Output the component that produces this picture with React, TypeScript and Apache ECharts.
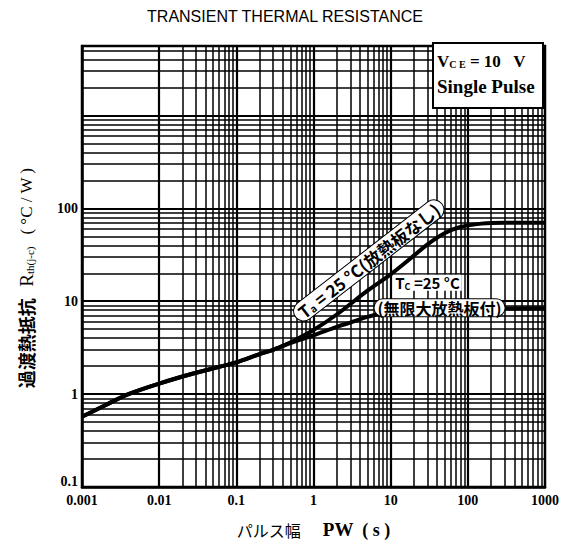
import React, { useEffect, useRef } from "react";
import * as echarts from "echarts";

// Axis ticks / labels
const xTickValues = [0.001, 0.01, 0.1, 1, 10, 100, 1000];
const xTickLabels = ["0.001", "0.01", "0.1", "1", "10", "100", "1000"];
const yTickValues = [0.1, 1, 10, 100];
const yTickLabels = ["0.1", "1", "10", "100"];

const X_MIN = 0.001;
const X_MAX = 1000;
const Y_MIN = 0.1;
const Y_MAX = 5600;

// Ta = 25°C (no heat sink)
const pwTa = [0.001, 0.002, 0.004, 0.01, 0.03, 0.1, 0.2, 0.3, 0.5, 1, 2, 5, 10, 20, 30, 50, 80, 150, 300, 1000];
const rthTa = [0.57, 0.76, 1.0, 1.3, 1.7, 2.2, 2.7, 3.0, 3.6, 4.9, 7.2, 13, 19.5, 31, 41, 54, 63, 68.5, 70, 70];

// Tc = 25°C (infinite heat sink)
const pwTc = [0.001, 0.002, 0.004, 0.01, 0.03, 0.1, 0.2, 0.3, 0.5, 1, 2, 3, 5, 7, 10, 20, 50, 1000];
const rthTc = [0.57, 0.76, 1.0, 1.3, 1.7, 2.2, 2.7, 3.0, 3.55, 4.3, 5.3, 5.9, 6.8, 7.3, 7.7, 8.1, 8.3, 8.4];

// Annotation anchor points (data coordinates)
const taLabelAt = [5.2, 27.5];
const tcLabel1At = [30, 15.8];
const tcLabel2At = [43, 8.5];

const findLabel = (v: number, vals: number[], labels: string[]) => {
  const i = vals.findIndex((t) => Math.abs(Math.log10(t) - Math.log10(v)) < 1e-6);
  return i >= 0 ? labels[i] : "";
};

export default function App() {
  const ref = useRef<HTMLDivElement>(null);
  useEffect(() => {
    const chart = echarts.init(ref.current!, null, { renderer: "svg" });
    const serif = "'Liberation Serif', 'DejaVu Serif', serif";
    const cjk = "'Noto Sans CJK JP', sans-serif";

    const xLines: any[] = [];
    for (let n = -3; n <= 2; n++) {
      for (let k = 1; k <= 9; k++) {
        const v = k * Math.pow(10, n);
        if (v > X_MIN * 1.0001 && v < X_MAX * 0.9999) {
          xLines.push({ xAxis: v, lineStyle: { width: k === 1 ? 2.2 : 1.5, color: "#000", type: "solid" } });
        }
      }
    }
    const yLines: any[] = [];
    for (let n = -1; n <= 3; n++) {
      for (let k = 1; k <= 9; k++) {
        const v = k * Math.pow(10, n);
        if (v > Y_MIN * 1.0001 && v < Y_MAX * 0.99) {
          yLines.push({ yAxis: v, lineStyle: { width: k === 1 ? 2.2 : 1.5, color: "#000", type: "solid" } });
        }
      }
    }

    chart.setOption({
      animation: false,
      grid: {
        left: 82,
        right: 20,
        top: 46,
        bottom: 56,
        show: true,
        borderColor: "#000",
        borderWidth: 2.5,
        backgroundColor: "#fff",
      },
      xAxis: {
        type: "log",
        logBase: 10,
        min: X_MIN,
        max: X_MAX,
        splitNumber: 6,
        axisLine: { show: true, lineStyle: { color: "#000", width: 2.5 } },
        axisTick: { show: false },
        splitLine: { show: false },
        axisLabel: {
          showMinLabel: true,
          showMaxLabel: true,
          margin: 6,
          color: "#000",
          fontFamily: serif,
          fontWeight: "bold",
          fontSize: 14,
          formatter: (v: number) => findLabel(v, xTickValues, xTickLabels),
        },
        name: "{c|パルス幅}{g|     }{p|PW}{g|  }{u|( s )}",
        nameLocation: "middle",
        nameGap: 33,
        nameTextStyle: {
          rich: {
            c: { fontFamily: cjk, fontSize: 16, color: "#000" },
            g: { fontSize: 16 },
            p: { fontFamily: serif, fontWeight: "bold", fontSize: 19, color: "#000" },
            u: { fontFamily: serif, fontWeight: "bold", fontSize: 18, color: "#000" },
          },
        },
      },
      yAxis: {
        type: "log",
        logBase: 10,
        min: Y_MIN,
        max: Y_MAX,
        splitNumber: 5,
        axisLine: { show: true, lineStyle: { color: "#000", width: 2.5 } },
        axisTick: { show: false },
        splitLine: { show: false },
        axisLabel: {
          showMinLabel: true,
          margin: 4,
          color: "#000",
          fontFamily: serif,
          fontWeight: "bold",
          fontSize: 14,
          formatter: (v: number) => {
            const s = findLabel(v, yTickValues, yTickLabels);
            if (s === "0.1") return "{low|0.1}";
            return s;
          },
          rich: {
            low: { fontFamily: serif, fontWeight: "bold", fontSize: 14, color: "#000", padding: [0, 0, 12, 0] },
          },
        },
      },
      series: [
        {
          type: "line",
          name: "grid",
          data: [[X_MIN, Y_MIN]],
          showSymbol: false,
          symbol: "none",
          silent: true,
          z: 1,
          lineStyle: { width: 0 },
          markLine: {
            silent: true,
            symbol: ["none", "none"],
            label: { show: false },
            animation: false,
            data: [...xLines, ...yLines],
          },
        },
        {
          type: "line",
          name: "Ta",
          data: pwTa.map((x, i) => [x, rthTa[i]]),
          showSymbol: false,
          symbol: "none",
          smooth: 0.3,
          z: 5,
          lineStyle: { color: "#000", width: 4 },
        },
        {
          type: "line",
          name: "Tc",
          data: pwTc.map((x, i) => [x, rthTc[i]]),
          showSymbol: false,
          symbol: "none",
          smooth: 0.3,
          z: 5,
          lineStyle: { color: "#000", width: 4 },
        },
      ],
    });

    const px = (x: number, y: number) =>
      chart.convertToPixel({ xAxisIndex: 0, yAxisIndex: 0 }, [x, y]) as number[];
    const ta = px(taLabelAt[0], taLabelAt[1]);
    const tc1 = px(tcLabel1At[0], tcLabel1At[1]);
    const tc2 = px(tcLabel2At[0], tcLabel2At[1]);
    const corner = px(X_MAX, Y_MAX);

    chart.setOption({
      graphic: [
        {
          type: "text",
          x: 285,
          y: 16,
          z: 50,
          style: {
            text: "TRANSIENT THERMAL RESISTANCE",
            align: "center",
            verticalAlign: "middle",
            fontFamily: "'Liberation Sans', Arial, sans-serif",
            fontSize: 16,
            fill: "#000",
          },
        },
        {
          type: "text",
          x: 26,
          y: 278,
          rotation: Math.PI / 2,
          z: 50,
          style: {
            text: "{c|過渡熱抵抗}{g|   }{r|R}{s|th(j-c)}{g|   }{u|( °C / W )}",
            align: "center",
            verticalAlign: "middle",
            rich: {
              c: { fontFamily: cjk, fontWeight: "bold", fontSize: 18, fill: "#000" },
              g: { fontSize: 14 },
              r: { fontFamily: serif, fontSize: 19, fill: "#000" },
              s: { fontFamily: serif, fontSize: 11, fill: "#000", verticalAlign: "bottom", padding: [6, 0, 0, 0] },
              u: { fontFamily: serif, fontSize: 17, fill: "#000" },
            },
          },
        },
        {
          type: "group",
          z: 50,
          children: [
            {
              type: "rect",
              z: 50,
              shape: { x: corner[0] - 112, y: corner[1] - 3, width: 110, height: 65 },
              style: { fill: "#fff", stroke: "#000", lineWidth: 2 },
            },
            {
              type: "text",
              z: 51,
              x: corner[0] - 108,
              y: corner[1] + 15,
              style: {
                text: "{b|V}{s|C E}{b| = 10   V}",
                verticalAlign: "middle",
                rich: {
                  b: { fontFamily: serif, fontWeight: "bold", fontSize: 17, fill: "#000" },
                  s: { fontFamily: serif, fontWeight: "bold", fontSize: 10, fill: "#000", verticalAlign: "bottom" },
                },
              },
            },
            {
              type: "text",
              z: 51,
              x: corner[0] - 108,
              y: corner[1] + 40,
              style: {
                text: "Single Pulse",
                verticalAlign: "middle",
                fontFamily: serif,
                fontWeight: "bold",
                fontSize: 19,
                fill: "#000",
              },
            },
          ],
        },
        {
          type: "text",
          x: ta[0],
          y: ta[1],
          rotation: 0.66,
          z: 60,
          style: {
            text: "{t|T}{s|a}{t| = 25 °C}{c|(放熱板なし)}",
            align: "center",
            verticalAlign: "middle",
            backgroundColor: "#fff",
            borderColor: "#000",
            borderWidth: 1,
            borderRadius: 11,
            padding: [1, 5, 1, 5],
            rich: {
              t: { fontFamily: cjk, fontWeight: "bold", fontSize: 17, fill: "#000" },
              s: { fontFamily: cjk, fontWeight: "bold", fontSize: 10, fill: "#000", verticalAlign: "bottom" },
              c: { fontFamily: cjk, fontWeight: "bold", fontSize: 17, fill: "#000" },
            },
          },
        },
        {
          type: "text",
          x: tc1[0],
          y: tc1[1],
          z: 60,
          style: {
            text: "{t|T}{s|C}{t| =25 °C}",
            align: "center",
            verticalAlign: "middle",
            backgroundColor: "#fff",
            padding: [0, 2, 0, 2],
            rich: {
              t: { fontFamily: cjk, fontWeight: "bold", fontSize: 15, lineHeight: 16, fill: "#000" },
              s: { fontFamily: cjk, fontWeight: "bold", fontSize: 9, lineHeight: 16, fill: "#000", verticalAlign: "bottom" },
            },
          },
        },
        {
          type: "text",
          x: tc2[0],
          y: tc2[1],
          z: 60,
          style: {
            text: "(無限大放熱板付)",
            align: "center",
            verticalAlign: "middle",
            fontFamily: cjk,
            fontWeight: "bold",
            fontSize: 16,
            lineHeight: 17,
            fill: "#000",
            backgroundColor: "#fff",
            borderColor: "#000",
            borderWidth: 1,
            borderRadius: 9,
            padding: [0, 3, 0, 3],
          },
        },
      ],
    });

    return () => chart.dispose();
  }, []);
  return <div ref={ref} style={{ position: "absolute", left: 0, top: 0, width: 565, height: 544 }} />;
}
